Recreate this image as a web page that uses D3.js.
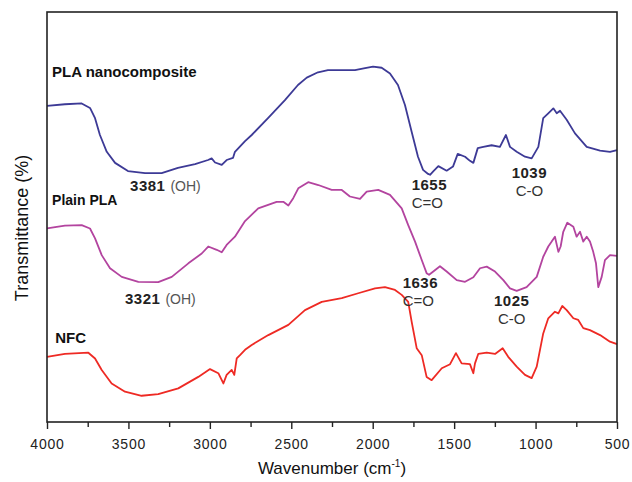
<!DOCTYPE html>
<html>
<head>
<meta charset="utf-8">
<script src="https://cdn.jsdelivr.net/npm/d3@7"></script>
<style>
  html, body { margin: 0; padding: 0; background: #fff; }
  svg { display: block; font-family: "Liberation Sans", Arial, sans-serif; }
</style>
</head>
<body>
<div id="chart"></div>
<script>
// spectra as [wavenumber (cm-1), transmittance (a.u.)]
const plaNanocomposite = [
  [4000, 77.1], [3890, 77.5], [3787, 77.7], [3736, 76.6], [3705, 74.1], [3675, 70.0],
  [3633, 65.9], [3582, 63.2], [3503, 61.2], [3398, 60.7], [3296, 60.7], [3196, 62.0],
  [3091, 62.9], [3011, 63.9], [2989, 64.3], [2968, 63.3], [2927, 62.7], [2897, 63.9],
  [2858, 64.4], [2846, 65.9], [2784, 68.5], [2743, 70.0], [2643, 74.1], [2539, 78.5],
  [2459, 82.2], [2405, 84.0], [2336, 85.3], [2275, 85.8], [2190, 85.8], [2109, 85.8],
  [2047, 86.3], [1998, 86.7], [1945, 86.4], [1894, 85.0], [1845, 82.2], [1802, 77.3],
  [1761, 70.8], [1722, 64.7], [1691, 61.5], [1660, 60.5], [1648, 60.3], [1627, 61.2],
  [1597, 62.4], [1546, 61.3], [1507, 62.3], [1478, 65.4], [1433, 64.7], [1403, 63.7],
  [1382, 63.2], [1355, 66.8], [1321, 67.1], [1270, 67.5], [1219, 67.1], [1182, 70.0],
  [1157, 67.1], [1116, 65.9], [1065, 64.7], [1024, 64.3], [983, 67.1], [953, 74.1],
  [922, 75.3], [891, 76.5], [870, 75.3], [850, 75.9], [809, 73.7], [758, 70.4],
  [686, 67.1], [604, 66.2], [543, 65.9], [500, 66.3]
];

const plainPLA = [
  [4000, 47.2], [3890, 47.9], [3787, 48.0], [3736, 47.2], [3705, 44.8], [3664, 40.7],
  [3613, 37.5], [3541, 35.4], [3439, 34.2], [3317, 34.1], [3234, 35.4], [3132, 38.7],
  [3050, 41.1], [3010, 42.8], [2958, 42.0], [2927, 41.4], [2897, 43.2], [2846, 45.2],
  [2784, 49.0], [2703, 52.1], [2590, 53.7], [2549, 53.7], [2518, 52.8], [2488, 54.6],
  [2457, 57.0], [2396, 58.5], [2334, 57.8], [2252, 56.6], [2190, 56.6], [2140, 55.0],
  [2078, 54.4], [2037, 56.2], [1966, 56.6], [1894, 55.4], [1822, 52.1], [1782, 48.0],
  [1740, 44.0], [1699, 39.5], [1669, 36.3], [1654, 35.9], [1628, 36.7], [1587, 38.0],
  [1546, 36.7], [1484, 34.6], [1433, 34.2], [1382, 35.3], [1341, 37.5], [1300, 37.9],
  [1249, 36.7], [1198, 34.6], [1157, 32.6], [1116, 32.0], [1055, 32.9], [993, 35.4],
  [953, 40.3], [922, 42.8], [901, 44.0], [881, 45.2], [860, 41.5], [846, 42.8],
  [830, 46.4], [805, 48.6], [768, 47.6], [748, 45.2], [727, 46.4], [707, 44.0],
  [686, 45.2], [666, 44.0], [646, 41.5], [629, 38.7], [615, 32.9], [594, 35.4],
  [574, 39.5], [543, 40.7], [500, 40.5]
];

const nfc = [
  [4000, 15.9], [3890, 16.6], [3746, 16.9], [3705, 15.5], [3664, 12.7], [3603, 9.4],
  [3521, 7.4], [3419, 6.4], [3317, 6.8], [3194, 8.2], [3071, 11.0], [2999, 12.9],
  [2948, 11.9], [2917, 9.4], [2897, 11.5], [2866, 12.7], [2850, 11.5], [2835, 15.5],
  [2815, 16.3], [2784, 17.6], [2743, 18.8], [2641, 21.2], [2518, 23.7], [2416, 27.3],
  [2313, 29.3], [2190, 30.2], [2089, 31.4], [1986, 32.6], [1925, 32.9], [1863, 32.2],
  [1822, 31.0], [1782, 29.3], [1761, 24.5], [1730, 18.0], [1699, 16.3], [1669, 11.0],
  [1638, 10.2], [1576, 13.1], [1525, 14.1], [1489, 16.8], [1454, 14.3], [1403, 14.1],
  [1382, 11.9], [1372, 14.3], [1352, 16.6], [1300, 16.9], [1249, 16.6], [1202, 18.0],
  [1168, 15.9], [1116, 13.5], [1065, 11.5], [1024, 10.7], [993, 13.5], [953, 21.6],
  [922, 25.3], [881, 26.9], [860, 26.5], [836, 28.3], [809, 27.3], [768, 25.3],
  [738, 24.9], [707, 22.9], [666, 22.4], [604, 21.2], [543, 19.6], [500, 19.0]
];

const majorTicks = [4000, 3500, 3000, 2500, 2000, 1500, 1000, 500];
const minorTicks = [3750, 3250, 2750, 2250, 1750, 1250, 750];

// 1) Basic chart dimensions
const width = 632;
const height = 482;
const margin = { top: 12, right: 15, bottom: 60, left: 47 };

// 2) Create SVG
const svg = d3
  .select("#chart")
  .append("svg")
  .attr("width", width)
  .attr("height", height);

// 3) Scales
const x = d3
  .scaleLinear()
  .domain([4000, 500])
  .range([margin.left, width - margin.right]);

const y = d3
  .scaleLinear()
  .domain([0, 100])
  .range([height - margin.bottom, margin.top]);

// 4) Spectra
const line = d3
  .line()
  .x((d) => x(d[0]))
  .y((d) => y(d[1]));

const series = [
  { data: plaNanocomposite, color: "#3d3a96" },
  { data: plainPLA, color: "#b3449f" },
  { data: nfc, color: "#ee2a24" }
];

svg
  .selectAll(".spectrum")
  .data(series)
  .enter()
  .append("path")
  .attr("class", "spectrum")
  .attr("d", (d) => line(d.data))
  .attr("fill", "none")
  .attr("stroke", (d) => d.color)
  .attr("stroke-width", 1.8)
  .attr("stroke-linejoin", "round");

// 5) Frame + bottom axis
svg
  .append("rect")
  .attr("x", margin.left)
  .attr("y", margin.top)
  .attr("width", width - margin.left - margin.right)
  .attr("height", height - margin.top - margin.bottom)
  .attr("fill", "none")
  .attr("stroke", "#222")
  .attr("stroke-width", 1.6);

const xAxis = svg
  .append("g")
  .attr("transform", `translate(0, ${height - margin.bottom})`)
  .call(
    d3
      .axisBottom(x)
      .tickValues(majorTicks)
      .tickFormat(d3.format("d"))
      .tickSize(7)
      .tickSizeOuter(0)
      .tickPadding(10)
  );
xAxis.select(".domain").remove();
xAxis.selectAll("line").attr("stroke", "#222").attr("stroke-width", 1.4);
xAxis
  .selectAll("text")
  .attr("fill", "#222")
  .style("font-size", "14px")
  .style("letter-spacing", "0.8px")
  .style("font-family", '"Liberation Sans", Arial, sans-serif');

const xMinor = svg
  .append("g")
  .attr("transform", `translate(0, ${height - margin.bottom})`)
  .call(d3.axisBottom(x).tickValues(minorTicks).tickSize(5).tickFormat(""));
xMinor.select(".domain").remove();
xMinor.selectAll("line").attr("stroke", "#222").attr("stroke-width", 1.4);

// 6) Axis labels
const xLabel = svg
  .append("text")
  .attr("x", (margin.left + width - margin.right) / 2)
  .attr("y", 474)
  .attr("text-anchor", "middle")
  .attr("fill", "#111")
  .style("font-size", "17px")
  .text("Wavenumber (cm");
xLabel.append("tspan").attr("dy", -7).style("font-size", "10px").text("-1");
xLabel.append("tspan").attr("dy", 7).text(")");

svg
  .append("text")
  .attr("transform", "rotate(-90)")
  .attr("x", -228)
  .attr("y", 28)
  .attr("text-anchor", "middle")
  .attr("fill", "#111")
  .style("font-size", "18px")
  .text("Transmittance (%)");

// 7) Series names
const seriesNames = [
  { text: "PLA nanocomposite", w: 3969, v: 84.1, size: 15 },
  { text: "Plain PLA", w: 3969, v: 52.9, size: 14 },
  { text: "NFC", w: 3950, v: 19.3, size: 15 }
];

svg
  .selectAll(".series-name")
  .data(seriesNames)
  .enter()
  .append("text")
  .attr("class", "series-name")
  .attr("x", (d) => x(d.w))
  .attr("y", (d) => y(d.v))
  .attr("fill", "#111")
  .style("font-weight", "bold")
  .style("font-size", (d) => d.size + "px")
  .text((d) => d.text);

// 8) Peak annotations
const peakNotes = [
  { num: "3381", note: "(OH)", inline: true, w: 3490, v: 56.3 },
  { num: "3321", note: "(OH)", inline: true, w: 3521, v: 28.8 },
  { num: "1655", note: "C=O", inline: false, w: 1761, v: 56.6 },
  { num: "1636", note: "C=O", inline: false, w: 1816, v: 32.6 },
  { num: "1039", note: "C-O", inline: false, w: 1147, v: 59.5 },
  { num: "1025", note: "C-O", inline: false, w: 1255, v: 28.3 }
];

const notes = svg
  .selectAll(".peak")
  .data(peakNotes)
  .enter()
  .append("g")
  .attr("class", "peak");

const numText = notes
  .append("text")
  .attr("x", (d) => x(d.w))
  .attr("y", (d) => y(d.v))
  .attr("fill", "#222")
  .style("font-size", "15px")
  .style("font-weight", "bold")
  .style("letter-spacing", "0.5px")
  .text((d) => d.num);

numText
  .filter((d) => d.inline)
  .append("tspan")
  .attr("dx", 5)
  .attr("fill", "#555")
  .style("font-weight", "normal")
  .style("font-size", "14px")
  .style("letter-spacing", "0px")
  .text((d) => d.note);

notes
  .filter((d) => !d.inline)
  .append("text")
  .attr("x", (d) => x(d.w) + (d.note === "C-O" ? 4 : 0))
  .attr("y", (d) => y(d.v) + 18)
  .attr("fill", "#333")
  .style("font-size", "15px")
  .text((d) => d.note);
</script>
</body>
</html>
